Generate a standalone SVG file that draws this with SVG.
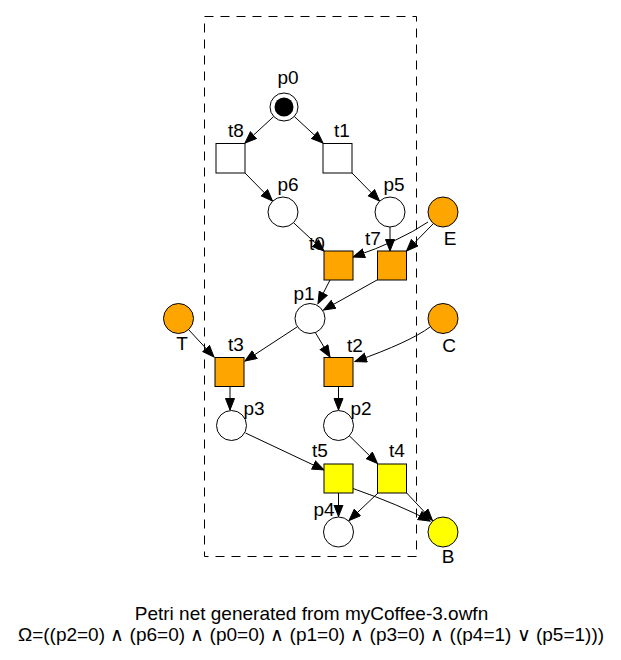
<svg xmlns="http://www.w3.org/2000/svg" width="621" height="660" viewBox="0 0 621 660">
<style>
text{font-family:"Liberation Sans",Arial,sans-serif;font-size:19px;fill:#000;text-anchor:middle}
.pl{fill:#fff;stroke:#000;stroke-width:1}
.tr{fill:#fff;stroke:#000;stroke-width:1}
.or{fill:#FFA500}
.ye{fill:#FFFF00}
.e{fill:none;stroke:#000;stroke-width:1;marker-end:url(#ah)}
</style>
<defs>
<marker id="ah" markerUnits="userSpaceOnUse" markerWidth="14" markerHeight="12" refX="12" refY="5" orient="auto">
<path d="M0.5,0.5 L12,5 L0.5,9.5 z" fill="#000" stroke="#000" stroke-width="1"/>
</marker>
</defs>
<rect x="204.5" y="16.5" width="212" height="540" fill="none" stroke="#000" stroke-dasharray="9,7"/>
<g id="connectors">
<path class="e" d="M273.7,116.5 L245,143"/>
<path class="e" d="M294.3,116.5 L323,143"/>
<path class="e" d="M245,173 L272.5,201"/>
<path class="e" d="M352,173 L379.5,201"/>
<path class="e" d="M293.5,222.7 L324,251"/>
<path class="e" d="M428,222 Q400,241 353,257"/>
<path class="e" d="M433,224 L406.5,251"/>
<path class="e" d="M390,227 L390,251"/>
<path class="e" d="M330,280 L318,303.5"/>
<path class="e" d="M377,280 L323.5,310"/>
<path class="e" d="M297,327 L245,361"/>
<path class="e" d="M315,332 L330,357"/>
<path class="e" d="M188,329 L214,357"/>
<path class="e" d="M430,327 Q410,342 355,361.5"/>
<path class="e" d="M230,387 L230,410"/>
<path class="e" d="M338.5,387 L338.5,410"/>
<path class="e" d="M245.5,433 L324,470"/>
<path class="e" d="M349,435.5 L377.5,463.5"/>
<path class="e" d="M338.5,493 L338.5,516.5"/>
<path class="e" d="M378,493 L349,520.5"/>
<path class="e" d="M353,488.5 Q400,505 430,521"/>
<path class="e" d="M406.7,493 L432.5,520.5"/>
</g>
<g id="p0"><circle class="pl" cx="284" cy="107" r="14"/><circle cx="284" cy="107" r="9.5" fill="#000"/><text x="288" y="84">p0</text></g>
<g id="t8"><rect class="tr" x="216" y="143.5" width="29" height="29.5"/><text x="236" y="137">t8</text></g>
<g id="t1"><rect class="tr" x="323" y="143.5" width="29" height="29.5"/><text x="342" y="137">t1</text></g>
<g id="p6"><circle class="pl" cx="283" cy="212" r="15"/><text x="288" y="191">p6</text></g>
<g id="p5"><circle class="pl" cx="390" cy="212" r="15"/><text x="394" y="191">p5</text></g>
<g id="E"><circle class="pl or" cx="443" cy="212" r="15"/><text x="450" y="245">E</text></g>
<g id="t0"><rect class="tr or" x="324" y="251" width="29" height="29"/><text x="317" y="250">t0</text></g>
<g id="t7"><rect class="tr or" x="377.5" y="251" width="29" height="29"/><text x="373" y="245">t7</text></g>
<g id="p1"><circle class="pl" cx="310" cy="318.5" r="15"/><text x="304" y="300">p1</text></g>
<g id="T"><circle class="pl or" cx="178.5" cy="318.5" r="15"/><text x="182" y="350">T</text></g>
<g id="C"><circle class="pl or" cx="443" cy="318.5" r="15"/><text x="449" y="352">C</text></g>
<g id="t3"><rect class="tr or" x="215" y="357.5" width="29" height="29"/><text x="236" y="351">t3</text></g>
<g id="t2"><rect class="tr or" x="324" y="357.5" width="29" height="29"/><text x="355" y="352">t2</text></g>
<g id="p3"><circle class="pl" cx="231.5" cy="425.5" r="15"/><text x="254" y="415">p3</text></g>
<g id="p2"><circle class="pl" cx="338.5" cy="425.5" r="15"/><text x="361" y="415">p2</text></g>
<g id="t5"><rect class="tr ye" x="324" y="464" width="29" height="29"/><text x="320" y="457">t5</text></g>
<g id="t4"><rect class="tr ye" x="377.5" y="464" width="29" height="29"/><text x="397" y="457">t4</text></g>
<g id="p4"><circle class="pl" cx="338.5" cy="532" r="15"/><text x="324" y="516">p4</text></g>
<g id="B"><circle class="pl ye" cx="443" cy="532" r="15"/><text x="448" y="563">B</text></g>
<g id="title">
<text x="311.5" y="620">Petri net generated from myCoffee-3.owfn</text>
<text x="311" y="641">Ω=((p2=0) ∧ (p6=0) ∧ (p0=0) ∧ (p1=0) ∧ (p3=0) ∧ ((p4=1) ∨ (p5=1)))</text>
</g>
</svg>
